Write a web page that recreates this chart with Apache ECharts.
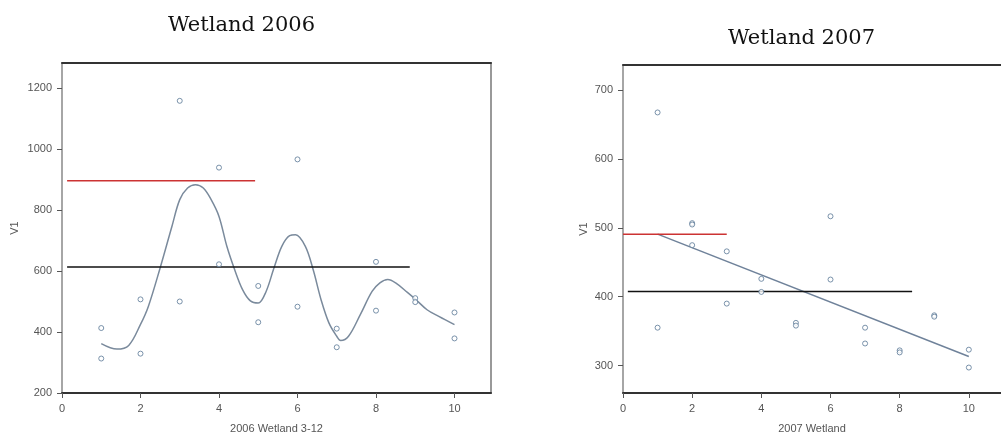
<!DOCTYPE html>
<html><head><meta charset="utf-8">
<script src="https://cdn.jsdelivr.net/npm/echarts@6/dist/echarts.min.js"></script>
<style>html,body{margin:0;padding:0;background:#fff}#c{width:1001px;height:439px}</style>
</head><body><div id="c"></div>
<script>
// ---- 2006 ----
const xTicks = [0, 2, 4, 6, 8, 10];
const yTicks2006 = [200, 400, 600, 800, 1000, 1200];
const yTicks2007 = [300, 400, 500, 600, 700];
const points2006 = [[1,413],[1,313],[2,507],[2,329],[3,1158],[3,500],[4,939],[4,622],[5,551],[5,432],[6,966],[6,483],[7,411],[7,350],[8,630],[8,470],[9,511],[9,498],[10,464],[10,379]];
const smooth2006 = [[1,362],[1.4,344],[1.7,356],[2,425],[2.2,484],[2.5,610],[2.8,746],[3,834],[3.2,872],[3.4,883],[3.6,872],[3.8,834],[4,779],[4.2,681],[4.4,604],[4.6,539],[4.8,502],[5,495],[5.2,533],[5.4,610],[5.6,681],[5.8,716],[5.95,719],[6.2,681],[6.4,604],[6.6,506],[6.8,430],[7,386],[7.1,372],[7.3,386],[7.6,457],[7.9,533],[8.1,561],[8.3,572],[8.5,561],[8.8,530],[9,508],[9.3,473],[9.6,451],[10,424]];
const redLine2006 = [[0.13,896],[4.92,896]];
const blackLine2006 = [[0.13,613],[8.86,613]];
// ---- 2007 ----
const points2007 = [[1,668],[1,355],[2,507],[2,505],[2,475],[3,466],[3,390],[4,426],[4,407],[5,362],[5,358],[6,517],[6,425],[7,355],[7,332],[8,322],[8,319],[9,373],[9,371],[10,323],[10,297]];
const fit2007 = [[1,491],[10,313]];
const redLine2007 = [[0,491],[3.0,491]];
const blackLine2007 = [[0.14,407.5],[8.36,407.5]];
const titles = ['Wetland 2006', 'Wetland 2007'];
const xNames = ['2006 Wetland 3-12', '2007 Wetland'];
const yName = 'V1';

const labelStyle = {fontFamily:'Liberation Sans', fontSize:11, color:'#555', formatter: v => String(v)};
function xAxisMain(gi, name){
  return {type:'value', gridIndex:gi, min:0, max:10.93, position:'bottom',
    name:name, nameLocation:'middle', nameGap:30,
    nameTextStyle:{fontFamily:'Liberation Sans', fontSize:11, color:'#555'},
    axisLine:{show:true, onZero:false, lineStyle:{color:'#333', width:2}},
    axisTick:{show:true, length:5, customValues:xTicks, lineStyle:{color:'#555'}},
    axisLabel:Object.assign({margin:10, customValues:xTicks}, labelStyle),
    splitLine:{show:false}};
}
function xAxisTop(gi){
  return {type:'value', gridIndex:gi, min:0, max:10.93, position:'top',
    axisLine:{show:true, onZero:false, lineStyle:{color:'#333', width:2}},
    axisTick:{show:false}, axisLabel:{show:false}, splitLine:{show:false}};
}
function yAxisMain(gi, min, max, ticks, gap){
  return {type:'value', gridIndex:gi, min:min, max:max, position:'left',
    name:yName, nameLocation:'middle', nameGap:gap, nameRotate:90,
    nameTextStyle:{fontFamily:'Liberation Sans', fontSize:11, color:'#555'},
    axisLine:{show:true, onZero:false, lineStyle:{color:'#888', width:1.5}},
    axisTick:{show:true, length:5, customValues:ticks, lineStyle:{color:'#555'}},
    axisLabel:Object.assign({margin:10, customValues:ticks}, labelStyle),
    splitLine:{show:false}};
}
const ptStyle = {color:'#fff', borderColor:'#5a7896', borderWidth:1};
function lineSeries(xi, yi, data, color, width, smooth){
  return {type:'line', xAxisIndex:xi, yAxisIndex:yi, data:data, symbol:'none', smooth:smooth||false,
    lineStyle:{color:color, width:width}, silent:true, animation:false, z:3};
}

const chart = echarts.init(document.getElementById('c'), null, {renderer:'canvas'});
chart.setOption({
  animation:false,
  backgroundColor:'#fff',
  title:[
    {text:titles[0], left:163, top:10, textStyle:{fontFamily:'DejaVu Serif', fontSize:21, fontWeight:'normal', color:'#111'}},
    {text:titles[1], left:723, top:23, textStyle:{fontFamily:'DejaVu Serif', fontSize:21, fontWeight:'normal', color:'#111'}}
  ],
  grid:[
    {left:62, top:63, width:429, height:330},
    {left:623, top:65, width:388, height:329}
  ],
  xAxis:[xAxisMain(0, xNames[0]), xAxisTop(0), xAxisMain(1, xNames[1]), xAxisTop(1)],
  yAxis:[
    yAxisMain(0, 200, 1282, yTicks2006, 42),
    {type:'value', gridIndex:0, min:200, max:1282, position:'right',
      axisLine:{show:true, onZero:false, lineStyle:{color:'#999', width:2}},
      axisTick:{show:false}, axisLabel:{show:false}, splitLine:{show:false}},
    yAxisMain(1, 260, 737, yTicks2007, 34)
  ],
  series:[
    {type:'scatter', xAxisIndex:0, yAxisIndex:0, data:points2006, symbol:'circle', symbolSize:5, itemStyle:ptStyle, z:4},
    lineSeries(0, 0, smooth2006, '#7a8a9c', 1.5, 0.35),
    lineSeries(0, 0, redLine2006, '#cc3333', 1.5),
    lineSeries(0, 0, blackLine2006, '#111', 1.5),
    {type:'scatter', xAxisIndex:2, yAxisIndex:2, data:points2007, symbol:'circle', symbolSize:5, itemStyle:ptStyle, z:4},
    lineSeries(2, 2, fit2007, '#6f829a', 1.5),
    lineSeries(2, 2, redLine2007, '#cc3333', 1.5),
    lineSeries(2, 2, blackLine2007, '#111', 1.5)
  ]
});
</script></body></html>
